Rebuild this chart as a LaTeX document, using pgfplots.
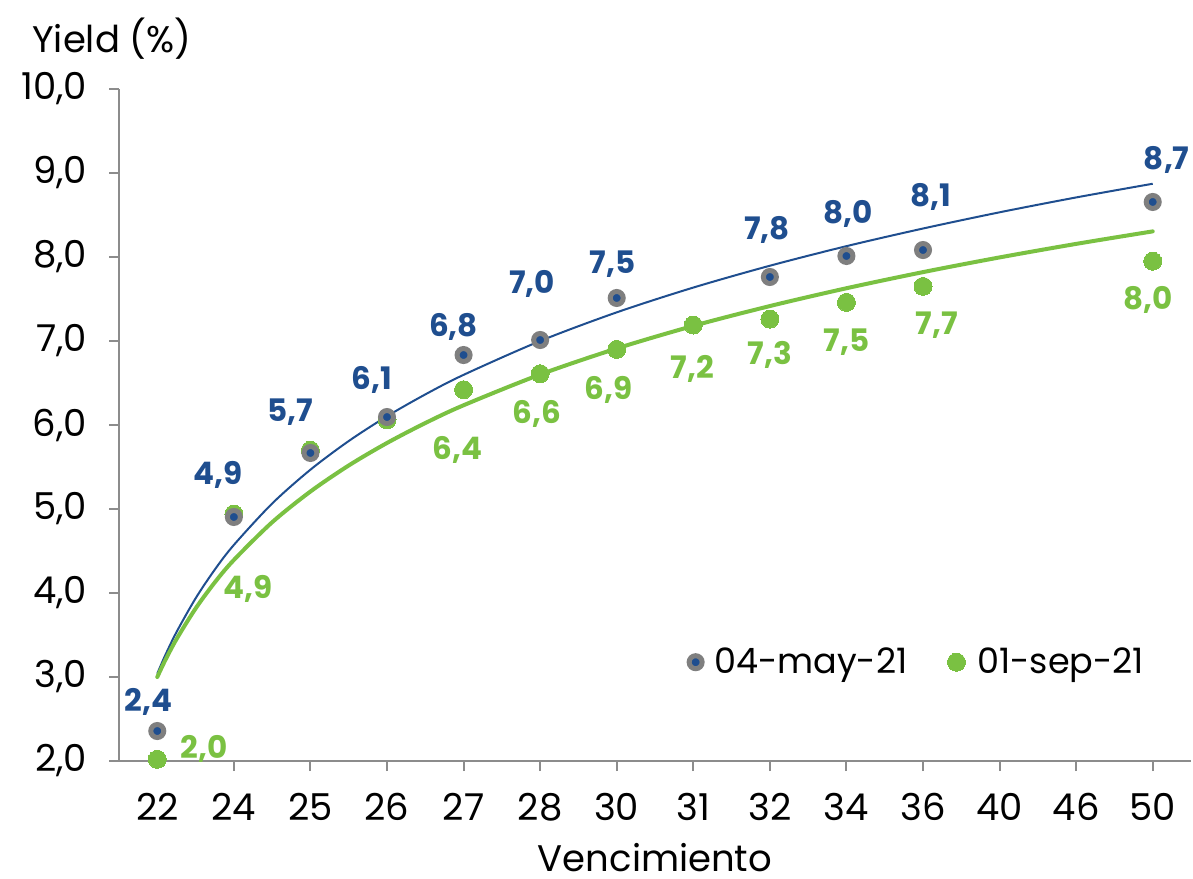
\documentclass[border=0pt]{standalone}
\usepackage{fontspec}
\setmainfont{Poppins}
\usepackage{pgfplots}
\usepackage{pgfplotstable}
\pgfplotsset{compat=1.18}

\definecolor{mayblue}{HTML}{1F4E8F}
\definecolor{sepgreen}{HTML}{7AC142}
\definecolor{ringgray}{HTML}{7F7F7F}
\definecolor{axisgray}{HTML}{8C8C8C}

% x = category index, dx/dy = label offset in pt
\pgfplotstableread{
x  y     lab dx   dy
0  2.357 2,4 -4.5 15.5
1  4.905 4,9 -8   22
2  5.667 5,7 -10  21.5
3  6.095 6,1 -7.5 19.5
4  6.833 6,8 -5   15
5  7.012 7,0 -4   29
6  7.512 7,5 -2   18
8  7.762 7,8 -1.5 24.5
9  8.012 8,0 1    22
10 8.083 8,1 4    27.5
13 8.655 8,7 7    22
}\maydata

\pgfplotstableread{
x  y    lab dx   dy
0  2.02 2,0 23.5 6
1  4.94 4,9 7    -36.5
2  5.70 {}  0    0
3  6.06 {}  0    0
4  6.42 6,4 -3   -29
5  6.61 6,6 -1.5 -19
6  6.90 6,9 -4   -19.5
7  7.19 7,2 -0.5 -21
8  7.26 7,3 0    -17
9  7.46 7,5 0    -19
10 7.65 7,7 7    -18.5
13 7.95 8,0 -2.5 -18.5
}\sepdata

% logarithmic trend lines
\pgfplotstableread{
x    y
0    3.040
0.1  3.251
0.25 3.533
0.5  3.936
0.75 4.277
1    4.572
1.5  5.065
2    5.468
2.5  5.809
3    6.104
3.5  6.364
4    6.597
5    7.000
6    7.341
7    7.636
8    7.896
9    8.129
10   8.339
11   8.532
12   8.709
13   8.872
}\maytrend

\pgfplotstableread{
x    y
0    3.000
0.1  3.192
0.25 3.449
0.5  3.815
0.75 4.125
1    4.393
1.5  4.842
2    5.208
2.5  5.518
3    5.786
3.5  6.023
4    6.235
5    6.601
6    6.911
7    7.180
8    7.416
9    7.628
10   7.820
11   7.995
12   8.156
13   8.305
}\septrend

\newcommand{\bigfont}{\fontsize{18.5}{22}\selectfont}
\newcommand{\legfont}{\fontsize{17.5}{21}\selectfont}
\newcommand{\lblfont}{\fontsize{15.5}{18}\selectfont\bfseries}

\begin{document}
\begin{tikzpicture}
\begin{axis}[
  name=ax,
  scale only axis, width=536pt, height=336pt,
  xmin=-0.5, xmax=13.5, ymin=2, ymax=10,
  axis x line*=bottom, axis y line*=left,
  axis line style={axisgray, line width=1pt},
  tick style={axisgray, line width=1pt},
  tick align=outside, major tick length=5pt,
  xtick={1,...,13}, xticklabels={},
  extra x ticks={0,...,13},
  extra x tick labels={22,24,25,26,27,28,30,31,32,34,36,40,46,50},
  extra x tick style={tick style={draw=none}},
  ytick={2,...,10},
  /pgf/number format/assume math mode=true,
  yticklabel style={/pgf/number format/fixed, /pgf/number format/fixed zerofill,
    /pgf/number format/precision=1, /pgf/number format/use comma, xshift=-7.5pt},
  xticklabel style={yshift=-7.5pt},
  every tick label/.append style={font=\bigfont},
  xlabel={Vencimiento},
  every axis x label/.style={at={(axis description cs:0.5,0)}, anchor=center,
    yshift=-48pt, font=\bigfont, text depth=0pt},
  clip=false,
  legend columns=2, reverse legend,
  legend style={at={(0.966,0.147)}, anchor=east, draw=none, fill=none,
    font=\legfont,
    /tikz/every odd column/.append style={column sep=4pt},
    /tikz/every even column/.append style={column sep=18pt}},
  legend cell align=left,
]
% markers
\addplot[only marks, mark=*, mark size=4.5pt, mark options={draw=sepgreen, fill=sepgreen, line width=0pt}]
  table[x=x, y=y] {\sepdata};
\addlegendentry{01-sep-21}
\addplot[only marks, mark=*, mark size=3.25pt, mark options={draw=ringgray, fill=mayblue, line width=2.5pt}]
  table[x=x, y=y] {\maydata};
\addlegendentry{04-may-21}
% trend lines
\addplot[forget plot, mayblue, line width=1pt, smooth, no marks] table[x=x, y=y] {\maytrend};
\addplot[forget plot, sepgreen, line width=2pt, smooth, no marks, line cap=round] table[x=x, y=y] {\septrend};
% data labels
\addplot[forget plot, draw=none, no marks, point meta=explicit symbolic,
  visualization depends on={\thisrow{dx}\as\dx},
  visualization depends on={\thisrow{dy}\as\dy},
  nodes near coords={\pgfplotspointmeta},
  nodes near coords style={anchor=center, font=\lblfont, text=mayblue,
    xshift=\dx pt, yshift=\dy pt, text depth=0pt, inner sep=0pt}]
  table[x=x, y=y, meta=lab] {\maydata};
\addplot[forget plot, draw=none, no marks, point meta=explicit symbolic,
  visualization depends on={\thisrow{dx}\as\dx},
  visualization depends on={\thisrow{dy}\as\dy},
  nodes near coords={\pgfplotspointmeta},
  nodes near coords style={anchor=center, font=\lblfont, text=sepgreen,
    xshift=\dx pt, yshift=\dy pt, text depth=0pt, inner sep=0pt}]
  table[x=x, y=y, meta=lab] {\sepdata};
\node[font=\bigfont, anchor=center, text depth=0pt, xshift=-3.5pt, yshift=27pt] at (rel axis cs:0,1) {Yield (\%)};
\end{axis}
\pgfresetboundingbox
\path[use as bounding box] ([xshift=-59.5pt, yshift=-58.5pt]ax.south west)
  rectangle ([xshift=537pt, yshift=380.5pt]ax.south west);
\end{tikzpicture}
\end{document}
